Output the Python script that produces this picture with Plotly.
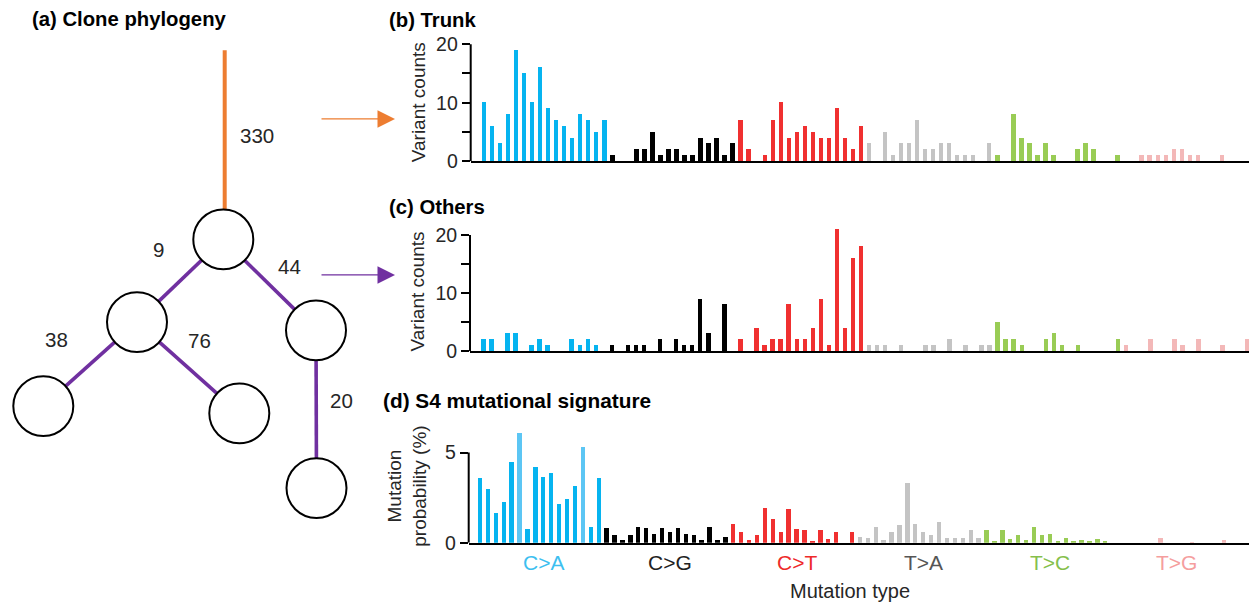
import plotly.graph_objects as go

W, H = 1249, 606

# ---------------- data ----------------
MUT_TYPES = ["C>A", "C>G", "C>T", "T>A", "T>C", "T>G"]
N_CONTEXT = 16

# (b) Trunk variant counts
trunk_CA = [10, 6, 3, 8, 19, 15, 10, 16, 9, 7, 6, 4, 8, 7, 5, 7]
trunk_CG = [1, 0, 0, 2, 2, 5, 1, 2, 2, 1, 1, 4, 3, 4, 1, 3]
trunk_CT = [7, 2, 0, 1, 7, 10, 4, 5, 6, 5, 4, 4, 9, 4, 2, 6]
trunk_TA = [3, 0, 5, 1, 3, 3, 7, 2, 2, 3, 3, 1, 1, 1, 0, 3]
trunk_TC = [1, 0, 8, 4, 3, 1, 3, 1, 0, 0, 2, 3, 2, 0, 0, 1]
trunk_TG = [0, 0, 1, 1, 1, 1, 2, 2, 1, 1, 0, 0, 1, 0, 0, 0]

# (c) Others variant counts
others_CA = [2, 2, 0, 3, 3, 0, 1, 2, 1, 0, 0, 2, 1, 2, 1, 0]
others_CG = [1, 0, 1, 1, 1, 0, 2, 0, 2, 1, 1, 9, 3, 0, 8, 0]
others_CT = [2, 0, 4, 1, 2, 2, 8, 2, 2, 4, 9, 1, 21, 4, 16, 18]
others_TA = [1, 1, 1, 0, 1, 0, 0, 1, 1, 0, 2, 0, 1, 0, 1, 1]
others_TC = [5, 2, 2, 1, 0, 0, 2, 3, 1, 0, 1, 0, 0, 0, 0, 2]
others_TG = [1, 0, 0, 2, 0, 0, 2, 1, 0, 2, 0, 0, 1, 0, 0, 2]

# (d) S4 mutational signature, probability (%)
sig_CA = [3.6, 3.0, 1.7, 2.3, 4.5, 6.1, 0.8, 4.24, 3.7, 3.9, 2.2, 2.45, 3.2, 5.33, 0.93, 3.6]
sig_CG = [0.85, 0.45, 0.19, 0.45, 0.93, 0.85, 0.52, 0.85, 0.6, 0.85, 0.52, 0.45, 0.19, 0.93, 0.19, 0.37]
sig_CT = [1.06, 0.65, 0.19, 0.45, 1.97, 1.34, 0.65, 1.9, 0.8, 0.72, 0.11, 0.72, 0.26, 0.6, 0.0, 0.65]
sig_TA = [0.37, 0.3, 0.93, 0.19, 0.65, 1.0, 3.35, 1.06, 0.6, 0.45, 1.2, 0.32, 0.32, 0.32, 0.72, 0.32]
sig_TC = [0.72, 0.11, 0.72, 0.24, 0.45, 0.17, 0.93, 0.45, 0.52, 0.11, 0.32, 0.11, 0.17, 0.11, 0.24, 0.11]
sig_TG = [0, 0, 0, 0, 0, 0, 0.32, 0, 0, 0, 0.07, 0, 0, 0, 0.17, 0]

# (a) clone phylogeny: branch mutation counts
trunk_count = 330
branch_counts = [9, 44, 38, 76, 20]

# ---------------- styles ----------------
BAR_COLORS = ["#06B4F0", "#000000", "#F03030", "#C4C4C4", "#99CC55", "#F3B8B8"]
LABEL_COLORS = ["#3DBFF0", "#222222", "#EE2A2A", "#555555", "#86BF4C", "#F59E9E"]
SIG_LIGHT_IDX = {5, 13}      # lighter blue bars in panel (d)
LIGHT_BLUE = "#5CC6F4"
FONT = "Liberation Sans, Arial, sans-serif"
TXT = "#262626"
ORANGE = "#ED7D31"
PURPLE = "#7030A0"

# vertical calibration of the photographed page
Y_A, Y_B = 2.36, 0.9774

def px_x(p):
    return p / W

def px_y(p):
    return 1 - ((p - Y_A) / Y_B) / H

fig = go.Figure()

panels = [
    ("x", "y", [trunk_CA, trunk_CG, trunk_CT, trunk_TA, trunk_TC, trunk_TG]),
    ("x2", "y2", [others_CA, others_CG, others_CT, others_TA, others_TC, others_TG]),
    ("x3", "y3", [sig_CA, sig_CG, sig_CT, sig_TA, sig_TC, sig_TG]),
]

for pi, (xa, ya, groups) in enumerate(panels):
    for gi, vals in enumerate(groups):
        xs = [gi * N_CONTEXT + k for k in range(len(vals))]
        if pi == 2 and gi == 0:
            colors = [LIGHT_BLUE if k in SIG_LIGHT_IDX else BAR_COLORS[gi] for k in range(len(vals))]
        else:
            colors = BAR_COLORS[gi]
        fig.add_trace(go.Bar(
            x=xs, y=vals, width=0.55, xaxis=xa, yaxis=ya,
            marker=dict(color=colors, line=dict(width=0)),
            name=MUT_TYPES[gi], showlegend=False,
            hovertemplate=MUT_TYPES[gi] + ": %{y}<extra></extra>",
        ))

axis_common = dict(showgrid=False, zeroline=False, fixedrange=True)

def xaxis(dom, rng, anchor):
    return dict(domain=dom, range=rng, anchor=anchor, showline=True, linewidth=2,
                linecolor="black", ticks="", showticklabels=False, **axis_common)

def yaxis(dom, rng, anchor, tv, tt):
    return dict(domain=dom, range=rng, anchor=anchor, showline=False, ticks="outside",
                ticklen=8, tickwidth=2, tickcolor="black", tickvals=tv, ticktext=tt,
                tickfont=dict(family=FONT, size=19.5, color=TXT), **axis_common)

fig.update_layout(
    width=W, height=H, margin=dict(l=0, r=0, t=0, b=0),
    paper_bgcolor="white", plot_bgcolor="white", bargap=0,
    font=dict(family=FONT, color=TXT),
    xaxis=xaxis([px_x(470.7), 1], [-1.62, 95.42], "y"),
    yaxis=yaxis([px_y(159.3), px_y(159.3 - 21 * 5.88)], [0, 21], "x",
                [0, 5, 10, 15, 20], ["0", "", "10", "", "20"]),
    xaxis2=xaxis([px_x(470.0), 1], [-1.655, 95.28], "y2"),
    yaxis2=yaxis([px_y(350.0), px_y(350.0 - 22 * 5.835)], [0, 22], "x2",
                 [0, 5, 10, 15, 20], ["0", "", "10", "", "20"]),
    xaxis3=xaxis([px_x(468.7), 1], [-1.39, 97.2], "y3"),
    yaxis3=yaxis([px_y(542.3), px_y(542.3 - 6.5 * 18.12)], [0, 6.5], "x3",
                 [0, 5], ["0", "5"]),
)

shapes = []
# y-axis lines ending at the top tick
for ya, xa, top in [("y", "x", 20), ("y2", "x2", 20), ("y3", "x3", 5)]:
    shapes.append(dict(type="line", xref=xa + " domain", yref=ya, x0=0, x1=0, y0=0, y1=top,
                       line=dict(color="black", width=2)))

# ---------------- tree (a) ----------------
nodes = {
    "root": (223.3, 237.7), "L": (137.0, 320.7), "R": (316.0, 329.0),
    "LL": (43.3, 405.0), "LR": (239.3, 412.3), "RR": (316.5, 487.3),
}
R_NODE = 30
edges = [("root", "L"), ("root", "R"), ("L", "LL"), ("L", "LR"), ("R", "RR")]
edge_label_pos = [(158.3, 248.3), (289.3, 265.0), (56.7, 338.3), (199.0, 339.0), (341.0, 399.3)]

# trunk branch
rx, ry = nodes["root"]
shapes.append(dict(type="line", xref="paper", yref="paper",
                   x0=px_x(224.7), x1=px_x(224.7), y0=px_y(47.7), y1=px_y(ry),
                   line=dict(color=ORANGE, width=4)))
for a, b in edges:
    (x0, y0), (x1, y1) = nodes[a], nodes[b]
    shapes.append(dict(type="line", xref="paper", yref="paper",
                       x0=px_x(x0), y0=px_y(y0), x1=px_x(x1), y1=px_y(y1),
                       line=dict(color=PURPLE, width=3.6)))
for name, (cx, cy) in nodes.items():
    shapes.append(dict(type="circle", xref="paper", yref="paper",
                       x0=px_x(cx - R_NODE), x1=px_x(cx + R_NODE),
                       y0=px_y(cy + R_NODE), y1=px_y(cy - R_NODE),
                       fillcolor="white", line=dict(color="black", width=2)))

annotations = []

def txt(x, y, s, size=19, color=TXT, bold=False, xanchor="center", angle=0, yanchor="middle"):
    annotations.append(dict(x=x, y=y, xref="paper", yref="paper", text=("<b>%s</b>" % s) if bold else s,
                            showarrow=False, xanchor=xanchor, yanchor=yanchor, textangle=angle,
                            font=dict(family=FONT, size=size, color=color)))

txt(px_x(256.5), px_y(133.3), str(trunk_count), size=20.5)
for (lx, ly), c in zip(edge_label_pos, branch_counts):
    txt(px_x(lx), px_y(ly), str(c), size=20.5)

# panel titles
txt(px_x(30), px_y(16), "(a) Clone phylogeny", size=20.3, color="black", bold=True, xanchor="left")
txt(px_x(387), px_y(17), "(b) Trunk", size=20.3, color="black", bold=True, xanchor="left")
txt(px_x(387.5), px_y(205), "(c) Others", size=20.3, color="black", bold=True, xanchor="left")
txt(px_x(381), px_y(399), "(d) S4 mutational signature", size=20.8, color="black", bold=True, xanchor="left")

# y-axis titles
txt(px_x(418), px_y(100), "Variant counts", size=19, angle=-90)
txt(px_x(418), px_y(290), "Variant counts", size=19, angle=-90)
txt(px_x(407), px_y(486), "Mutation<br>probability (%)", size=19, angle=-90)

# mutation type labels under panel (d)
for gi, m in enumerate(MUT_TYPES):
    annotations.append(dict(x=gi * N_CONTEXT + (N_CONTEXT - 1) / 2 + 0.6, y=px_y(561.7),
                            xref="x3", yref="paper", text=m.replace(">", "&gt;"), showarrow=False,
                            xanchor="center", yanchor="middle",
                            font=dict(family=FONT, size=21, color=LABEL_COLORS[gi])))
txt(px_x(849.6), px_y(591), "Mutation type", size=20)

# arrows
for ycoord, col in [(116.7, ORANGE), (273.3, PURPLE)]:
    annotations.append(dict(x=px_x(395), y=px_y(ycoord), xref="paper", yref="paper",
                            ax=-75, ay=0, axref="pixel", ayref="pixel", text="",
                            showarrow=True, arrowhead=2, arrowsize=2.5, arrowwidth=1.4,
                            arrowcolor=col))

fig.update_layout(shapes=shapes, annotations=annotations)
fig.write_html(
    "out.html",
    config={"displayModeBar": False},
    post_script="document.body.style.margin='0';document.body.style.overflow='hidden';",
)
